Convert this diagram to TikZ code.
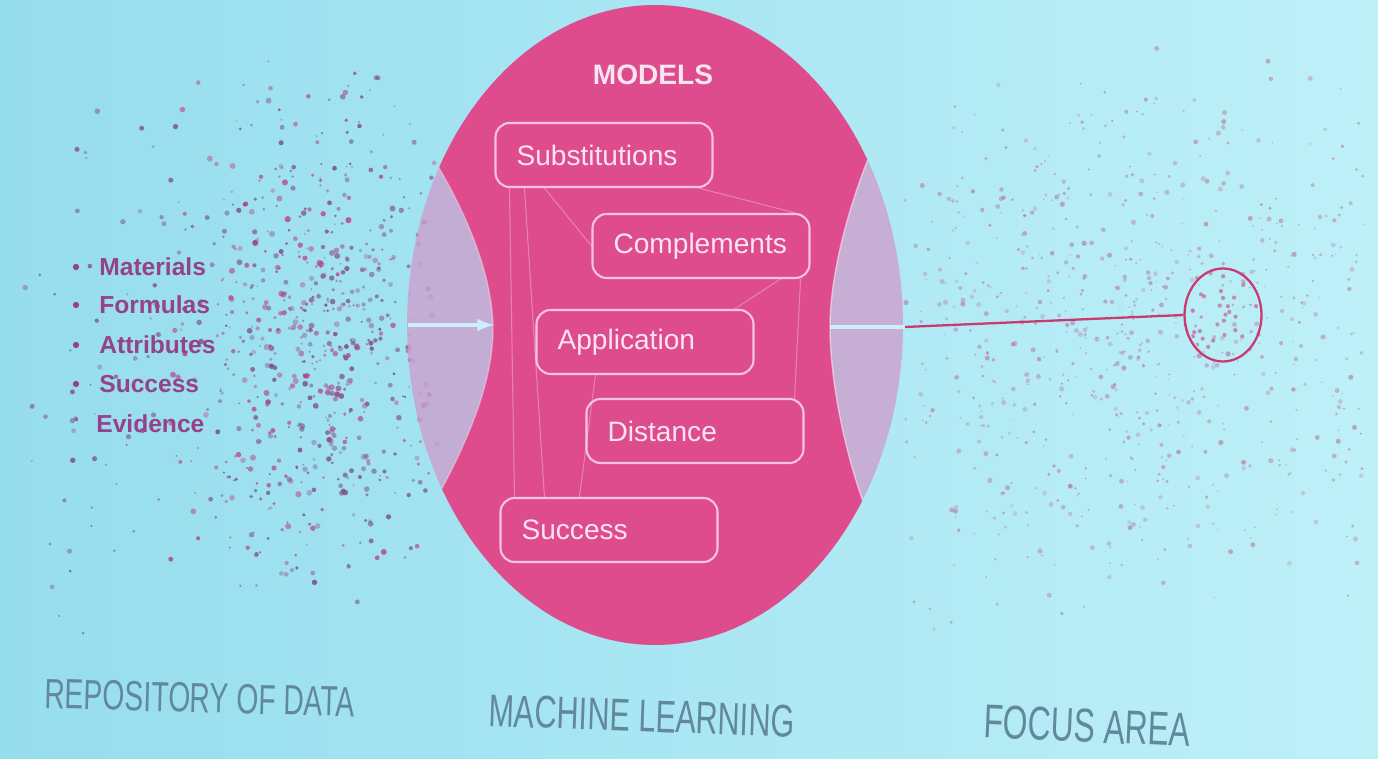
\documentclass[tikz,border=0pt]{standalone}
\usepackage{fontspec}
\setmainfont{Liberation Sans}
\usetikzlibrary{arrows,shapes.geometric}

\definecolor{skyL}{RGB}{150,221,238}
\definecolor{skyR}{RGB}{190,240,248}
\definecolor{rose}{RGB}{222,76,141}
\definecolor{lilac}{RGB}{204,160,206}
\definecolor{boxline}{RGB}{246,196,224}
\definecolor{boxtext}{RGB}{250,228,240}
\definecolor{plum}{RGB}{150,66,138}
\definecolor{dotdark}{RGB}{128,72,132}
\definecolor{dotred}{RGB}{185,62,130}
\definecolor{dotlight}{RGB}{185,105,155}
\definecolor{capgray}{RGB}{98,136,158}
\definecolor{wire}{RGB}{200,58,112}

\begin{document}
\begin{tikzpicture}[x=0.02cm,y=-0.02cm]
\tikzstyle{model} = [rectangle, draw=boxline, line width=1.2pt, rounded corners=8pt,
text width=3.5cm, inner xsep=0.42cm, minimum height=1.28cm, align=left,
text=boxtext, font=\fontsize{16}{19}\selectfont]
\tikzstyle{item} = [anchor=base west, inner sep=0pt, text=plum,
font=\bfseries\fontsize{14}{16}\selectfont]
\tikzstyle{caption} = [text=capgray, xscale=0.67, transform shape, inner sep=1pt]
\tikzstyle{feed} = [draw=white!80!cyan, line width=2.2pt]
\tikzstyle{thread} = [draw=white, opacity=0.3, line width=0.6pt]
\tikzstyle{wire line} = [draw=wire, line width=1.3pt]

\useasboundingbox (0,0) rectangle (1378,759);
\shade[left color=skyL, right color=skyR] (0,0) rectangle (1378,759);

% scattered data points, left cloud
\pgfmathsetseed{17}
\foreach \i in {1,...,150}{
  \pgfmathsetmacro{\dx}{230+205*rand}
  \pgfmathsetmacro{\dy}{345+150*(rand+rand)}
  \pgfmathsetmacro{\dr}{0.5+1.1*rnd}
  \pgfmathsetmacro{\op}{0.3+0.5*rnd}
  \fill[dotdark, opacity=\op] (\dx,\dy) circle[radius=\dr pt];
}
\foreach \i in {1,...,320}{
  \pgfmathsetmacro{\dx}{320+60*(rand+rand)}
  \pgfmathsetmacro{\dy}{345+135*(rand+rand)}
  \pgfmathsetmacro{\dr}{0.5+1.2*rnd}
  \pgfmathsetmacro{\op}{0.35+0.5*rnd}
  \fill[dotdark, opacity=\op] (\dx,\dy) circle[radius=\dr pt];
}
\foreach \i in {1,...,260}{
  \pgfmathsetmacro{\dx}{300+75*(rand+rand)}
  \pgfmathsetmacro{\dy}{340+130*(rand+rand)}
  \pgfmathsetmacro{\dr}{0.5+1.3*rnd}
  \pgfmathsetmacro{\op}{0.3+0.5*rnd}
  \fill[dotred, opacity=\op] (\dx,\dy) circle[radius=\dr pt];
}
% right cloud, fainter
\foreach \i in {1,...,420}{
  \pgfmathsetmacro{\dx}{1135+230*rand}
  \pgfmathsetmacro{\dy}{340+150*(rand+rand)}
  \pgfmathsetmacro{\dr}{0.5+1*rnd}
  \pgfmathsetmacro{\op}{0.25+0.35*rnd}
  \fill[dotlight, opacity=\op] (\dx,\dy) circle[radius=\dr pt];
}
\foreach \i in {1,...,300}{
  \pgfmathsetmacro{\dx}{1120+110*(rand+rand)}
  \pgfmathsetmacro{\dy}{340+140*(rand+rand)}
  \pgfmathsetmacro{\dr}{0.5+1*rnd}
  \pgfmathsetmacro{\op}{0.25+0.35*rnd}
  \fill[dotlight, opacity=\op] (\dx,\dy) circle[radius=\dr pt];
}

% the machine learning disc
\fill[lilac, opacity=0.8] (655,325) ellipse [x radius=4.96cm, y radius=6.4cm];
\begin{scope}
\clip (655,325) ellipse [x radius=4.96cm, y radius=6.4cm];
\fill[rose] (380,-20) -- (950,-20) -- (950,130)
  -- (880,130) .. controls (845,210) and (830,280) .. (830,327)
  .. controls (830,380) and (845,460) .. (872,525)
  -- (950,525) -- (950,700) -- (380,700) -- (380,510)
  -- (430,510) .. controls (470,440) and (493,380) .. (493,329)
  .. controls (493,280) and (470,215) .. (425,145) -- (380,145) -- cycle;
\draw[white, opacity=0.5, line width=0.8pt] (880,130) .. controls (845,210) and (830,280) .. (830,327)
  .. controls (830,380) and (845,460) .. (872,525);
\draw[white, opacity=0.35, line width=0.8pt] (430,510) .. controls (470,440) and (493,380) .. (493,329)
  .. controls (493,280) and (470,215) .. (425,145);
\end{scope}

\node[font=\bfseries\fontsize{16}{19}\selectfont, text=boxtext] (models) at (653,75) {MODELS};

% row 1
\node[model] (subst) at (604,155) {Substitutions};
% row 2
\node[model] (compl) at (701,246) {Complements};
% row 3
\node[model] (appl) at (645,342) {Application};
% row 4
\node[model] (dist) at (695,431) {Distance};
% row 5
\node[model] (succ) at (609,530) {Success};

\path[thread] ([xshift=0.3cm]subst.south west) -- ([xshift=0.3cm]succ.north west);
\path[thread] ([xshift=0.6cm]subst.south west) -- ([xshift=0.9cm]succ.north west);
\path[thread] ([xshift=1cm]subst.south west) -- (compl.west);
\path[thread] ([xshift=-0.3cm]subst.south east) -- ([xshift=-0.3cm]compl.north east);
\path[thread] ([xshift=-0.2cm]compl.south east) -- ([xshift=-0.2cm]dist.north east);
\path[thread] ([xshift=-0.6cm]compl.south east) -- ([xshift=-0.4cm]appl.north east);
\path[thread] ([xshift=1.2cm]appl.south west) -- ([xshift=1.6cm]succ.north west);

% data attributes
\foreach \word/\yy [count=\k] in {Materials/267, Formulas/305, Attributes/345, Success/384}{
  \fill[plum] (76,\yy) circle[radius=1.8pt];
  \node[item] (item\k) at (99,\yy+9) {\word};
}
\node[item] (item5) at (96,433) {Evidence};

% input and output
\coordinate (ltail) at (408,325);
\coordinate (lhead) at (494,325);
\path[feed, ->, >=latex] (ltail) -- (lhead);

\node[ellipse, draw=wire, line width=1.3pt, minimum width=1.54cm, minimum height=1.86cm] (focus) at (1223,315) {};
\begin{scope}
\clip (1223,315) ellipse [x radius=0.72cm, y radius=0.88cm];
\foreach \i in {1,...,30}{
  \pgfmathsetmacro{\dx}{1223+34*rand}
  \pgfmathsetmacro{\dy}{315+42*rand}
  \fill[wire, opacity=0.55] (\dx,\dy) circle[radius=1.2pt];
}
\end{scope}
\coordinate (rtail) at (830,327);
\coordinate (rjoin) at (905,327);
\path[feed] (rtail) -- (rjoin);
\path[wire line] (rjoin) -- (focus.west);

% captions
\node[rotate=-1.5, caption, font=\fontsize{24}{28}\selectfont] (repo) at (200,698) {REPOSITORY OF DATA};
\node[rotate=-2, caption, font=\fontsize{26}{30}\selectfont] (learn) at (642,716) {MACHINE LEARNING};
\node[rotate=-2.5, caption, font=\fontsize{27}{31}\selectfont] (area) at (1087,726) {FOCUS AREA};

\end{tikzpicture}
\end{document}
